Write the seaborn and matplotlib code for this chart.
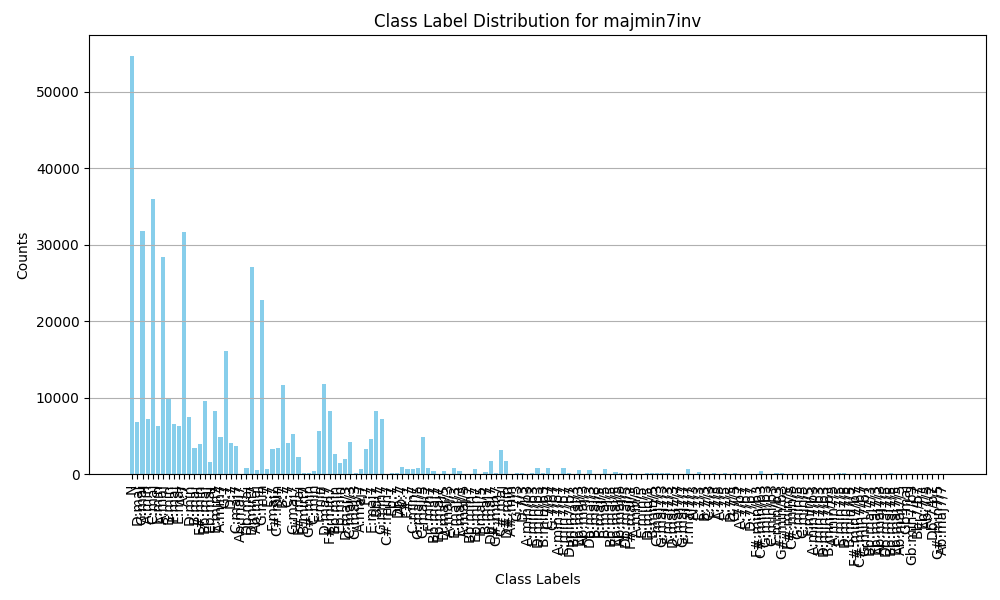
import matplotlib
matplotlib.use("Agg")
import matplotlib.pyplot as plt
import seaborn as sns

# ----------------------------------------------------------
# Data (class labels and their counts)
# ----------------------------------------------------------

class_labels = [
    "N", "D:maj", "G:maj", "A:min", "C:maj", "E:min", "A:maj", "B:min",
    "F:maj", "E:maj", "A:7", "D:min", "B:maj", "F#:min", "Bb:maj", "Eb:maj",
    "E:min7", "A:min7", "G:7", "D:7", "C:maj7", "Ab:maj7", "Db:maj", "D:min7",
    "Ab:maj", "G:min", "E:7", "F:maj7", "C#:min", "B:7", "C:7", "G:maj7",
    "F#:maj", "B:min7", "G#:min", "C:min", "F:min", "D:maj7", "F#:min7", "Bb:min",
    "Eb:min", "D:maj/3", "C:maj/3", "G:maj/3", "A:maj7", "F:7", "E:maj7", "Bb:7",
    "G:min7", "C#:min7", "Eb:7", "Db:7", "Ab:7", "F#:7", "C:min7", "G:maj/5",
    "C:maj/5", "F:min7", "Bb:maj7", "Eb:maj7", "D:maj/5", "A:maj/3", "E:maj/3", "F:maj/3",
    "A:maj/5", "Bb:min7", "Eb:min7", "F:maj/5", "B:maj7", "Db:maj7", "G#:min7", "C#:maj",
    "D#:min", "A#:min", "G:7/3", "D:7/3", "A:min/b3", "E:min/b3", "D:min/b3", "B:min/b3",
    "C:7/b7", "G:7/b7", "A:min7/b7", "E:min7/b7", "D:min7/b7", "Bb:maj/3", "Eb:maj/3", "Ab:maj/3",
    "Db:maj/3", "B:maj/3", "E:maj/5", "B:maj/5", "Bb:maj/5", "Eb:maj/5", "Ab:maj/5", "Db:maj/5",
    "F#:maj/3", "A:min/5", "E:min/5", "D:min/5", "B:min/5", "C:maj7/3", "G:maj7/3", "F:maj7/3",
    "D:maj7/3", "C:maj7/7", "G:maj7/7", "F:maj7/7", "A:7/3", "E:7/3", "B:7/3", "C:7/3",
    "F:7/3", "A:7/5", "E:7/5", "D:7/5", "G:7/5", "A:7/b7", "E:7/b7", "D:7/b7",
    "F#:min/b3", "C#:min/b3", "G:min/b3", "C:min/b3", "F:min/b3", "G#:min/b3", "F#:min/5", "C#:min/5",
    "G:min/5", "C:min/5", "F:min/5", "A:min7/b3", "E:min7/b3", "D:min7/b3", "B:min7/b3", "A:min7/5",
    "E:min7/5", "D:min7/5", "B:min7/5", "F#:min7/b7", "C#:min7/b7", "G:min7/b7", "Bb:maj7/3", "Eb:maj7/3",
    "Ab:maj7/3", "Db:maj7/5", "Bb:maj7/5", "Eb:maj7/5", "Ab:maj7/5", "Gb:maj", "Gb:min7/b3", "Bb:7/b7",
    "Eb:7/3", "Ab:7/5", "Db:7/b7", "G#:min7/5", "Ab:maj7/7",
]

class_counts = [
    54710, 6810, 31830, 7200, 36030, 6290, 28430, 9830,
    6550, 6290, 31700, 7470, 3410, 3930, 9560, 1570,
    8250, 4850, 16110, 4060, 3670, 40, 790, 27120,
    520, 22800, 650, 3280, 3410, 11700, 4080, 5260,
    2250, 130, 130, 400, 5680, 11760, 8190, 2640,
    1450, 1980, 4230, 130, 660, 3300, 4630, 8190,
    7140, 30, 130, 130, 925, 660, 660, 790,
    4890, 790, 400, 40, 400, 30, 790, 400,
    50, 40, 650, 50, 260, 1700, 130, 3140,
    1700, 40, 130, 130, 50, 130, 790, 130,
    790, 40, 30, 790, 130, 50, 520, 40,
    520, 30, 50, 650, 40, 260, 130, 40,
    130, 40, 30, 130, 130, 130, 130, 130,
    40, 30, 40, 650, 30, 260, 40, 30,
    130, 40, 130, 30, 130, 40, 30, 40,
    30, 390, 40, 30, 130, 130, 40, 30,
    40, 30, 40, 30, 40, 30, 40, 30,
    130, 130, 40, 30, 40, 130, 40, 30,
    40, 30, 130, 40, 30, 40, 30, 40,
    30, 40, 30, 40, 30,
]

# ----------------------------------------------------------
# Bar Chart : Class Label Distribution
# ----------------------------------------------------------

fig, ax = plt.subplots(figsize=(10, 6), dpi=100)

sns.barplot(
    x=class_labels,
    y=class_counts,
    color="skyblue",
    saturation=1,
    width=0.8,
    ax=ax
)

# keep matplotlib's usual 5% side margins instead of seaborn's tight limits
n = len(class_labels)
pad = 0.05 * (n - 0.2)
ax.set_xlim(-0.4 - pad, n - 0.6 + pad)

ax.set_title("Class Label Distribution for majmin7inv", fontsize=12)
ax.set_xlabel("Class Labels")
ax.set_ylabel("Counts")

ax.tick_params(axis="x", rotation=90)
ax.grid(axis="y")
ax.xaxis.grid(False)

plt.subplots_adjust(left=0.0893, right=0.9857, bottom=0.21, top=0.9417)

plt.savefig("out.png", dpi=100)
plt.close()
